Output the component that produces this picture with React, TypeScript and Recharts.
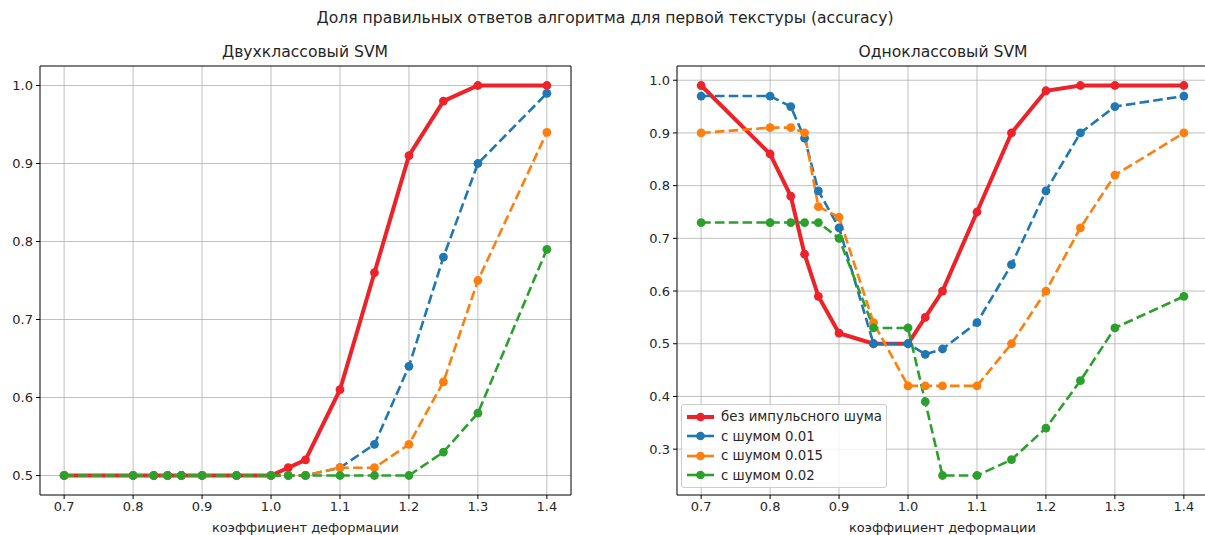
import React from 'react'
import { LineChart, Line, XAxis, YAxis, CartesianGrid, Legend, ReferenceLine } from 'recharts'

const xValues = [0.7, 0.8, 0.83, 0.85, 0.87, 0.9, 0.95, 1.0, 1.025, 1.05, 1.1, 1.15, 1.2, 1.25, 1.3, 1.4]
const xTicks = [0.7, 0.8, 0.9, 1.0, 1.1, 1.2, 1.3, 1.4]

// Двухклассовый SVM
const twoClassClean = [0.5, 0.5, 0.5, 0.5, 0.5, 0.5, 0.5, 0.5, 0.51, 0.52, 0.61, 0.76, 0.91, 0.98, 1.0, 1.0]
const twoClassNoise01 = [0.5, 0.5, 0.5, 0.5, 0.5, 0.5, 0.5, 0.5, 0.5, 0.5, 0.51, 0.54, 0.64, 0.78, 0.9, 0.99]
const twoClassNoise015 = [0.5, 0.5, 0.5, 0.5, 0.5, 0.5, 0.5, 0.5, 0.5, 0.5, 0.51, 0.51, 0.54, 0.62, 0.75, 0.94]
const twoClassNoise02 = [0.5, 0.5, 0.5, 0.5, 0.5, 0.5, 0.5, 0.5, 0.5, 0.5, 0.5, 0.5, 0.5, 0.53, 0.58, 0.79]
const twoClassYTicks = [0.5, 0.6, 0.7, 0.8, 0.9, 1.0]

// Одноклассовый SVM
const oneClassClean = [0.99, 0.86, 0.78, 0.67, 0.59, 0.52, 0.5, 0.5, 0.55, 0.6, 0.75, 0.9, 0.98, 0.99, 0.99, 0.99]
const oneClassNoise01 = [0.97, 0.97, 0.95, 0.89, 0.79, 0.72, 0.5, 0.5, 0.48, 0.49, 0.54, 0.65, 0.79, 0.9, 0.95, 0.97]
const oneClassNoise015 = [0.9, 0.91, 0.91, 0.9, 0.76, 0.74, 0.54, 0.42, 0.42, 0.42, 0.42, 0.5, 0.6, 0.72, 0.82, 0.9]
const oneClassNoise02 = [0.73, 0.73, 0.73, 0.73, 0.73, 0.7, 0.53, 0.53, 0.39, 0.25, 0.25, 0.28, 0.34, 0.43, 0.53, 0.59]
const oneClassYTicks = [0.3, 0.4, 0.5, 0.6, 0.7, 0.8, 0.9, 1.0]

const seriesNames = ['без импульсного шума', 'с шумом 0.01', 'с шумом 0.015', 'с шумом 0.02']
const COLORS = ['#ee2229', '#1f77b4', '#ff7f0e', '#2ca02c']

const FONT = '"DejaVu Sans", sans-serif'
const TEXT = '#262626'

const buildRows = (a: number[], b: number[], c: number[], d: number[]) =>
  xValues.map((x, i) => ({ x, clean: a[i], n01: b[i], n015: c[i], n02: d[i] }))

const twoClassData = buildRows(twoClassClean, twoClassNoise01, twoClassNoise015, twoClassNoise02)
const oneClassData = buildRows(oneClassClean, oneClassNoise01, oneClassNoise015, oneClassNoise02)

const keys = ['clean', 'n01', 'n015', 'n02']

const renderLegend = () => (
  <div
    style={{
      background: 'rgba(255,255,255,0.8)',
      border: '1px solid #cccccc',
      borderRadius: 3,
      padding: '2px 4px 2px 5px',
      fontFamily: FONT,
      fontSize: 13.3,
      color: TEXT,
    }}
  >
    {seriesNames.map((name, i) => (
      <div key={name} style={{ display: 'flex', alignItems: 'center', height: 19.5 }}>
        <svg width={27} height={10} style={{ marginRight: 7 }}>
          <line x1={0} y1={5} x2={27} y2={5} stroke={COLORS[i]} strokeWidth={i === 0 ? 4 : 2.6} />
          <circle cx={13.5} cy={5} r={4.3} fill={COLORS[i]} />
        </svg>
        <span>{name}</span>
      </div>
    ))}
  </div>
)

function Panel({ data, yDomain, yTicks, withLegend }: { data: any[]; yDomain: number[]; yTicks: number[]; withLegend?: boolean }) {
  const tickStyle = { fill: TEXT, fontSize: 13, fontFamily: FONT }
  return (
    <LineChart width={600} height={535} data={data} margin={{ top: 66, right: 29, bottom: 0, left: 0 }}>
      <CartesianGrid stroke="#b0b0b0" strokeWidth={0.8} verticalValues={xTicks} horizontalValues={yTicks} />
      <XAxis
        dataKey="x"
        type="number"
        domain={[0.665, 1.435]}
        ticks={xTicks}
        allowDataOverflow
        tickFormatter={(v) => v.toFixed(1)}
        tick={tickStyle}
        tickSize={4}
        tickMargin={3}
        height={40}
        stroke="#000"
        label={{ value: 'коэффициент деформации', position: 'insideBottom', offset: 3, fill: TEXT, fontSize: 13, fontFamily: FONT }}
      />
      <YAxis
        type="number"
        domain={yDomain}
        ticks={yTicks}
        allowDataOverflow
        tickFormatter={(v) => v.toFixed(1)}
        tick={tickStyle}
        tickSize={4}
        tickMargin={3}
        width={40}
        stroke="#000"
      />
      <ReferenceLine x={1.435} stroke="#000" strokeWidth={1} />
      <ReferenceLine y={yDomain[1]} stroke="#000" strokeWidth={1} />
      {keys.map((k, i) => (
        <Line
          key={k}
          dataKey={k}
          name={seriesNames[i]}
          type="linear"
          stroke={COLORS[i]}
          strokeWidth={i === 0 ? 4 : 2.6}
          strokeDasharray={i === 0 ? undefined : '9.6 4.2'}
          dot={{ r: 4.4, fill: COLORS[i], stroke: COLORS[i], strokeWidth: 0 }}
          activeDot={false}
          isAnimationActive={false}
        />
      ))}
      {withLegend && (
        <Legend
          layout="vertical"
          align="center"
          verticalAlign="middle"
          content={renderLegend}
          wrapperStyle={{ left: 44, top: 404, width: 'auto' }}
        />
      )}
    </LineChart>
  )
}

export default function App() {
  const titleStyle: React.CSSProperties = {
    position: 'absolute',
    fontFamily: FONT,
    color: TEXT,
    whiteSpace: 'nowrap',
    transform: 'translate(-50%, -50%)',
  }
  return (
    <div style={{ position: 'absolute', left: 0, top: 0, width: 1205, height: 535, overflow: 'hidden', background: '#fff' }}>
      <div style={{ ...titleStyle, left: 605, top: 18, fontSize: 15.6 }}>
        Доля правильных ответов алгоритма для первой текстуры (accuracy)
      </div>
      <div style={{ ...titleStyle, left: 305, top: 52, fontSize: 15.6 }}>Двухклассовый SVM</div>
      <div style={{ ...titleStyle, left: 943, top: 52, fontSize: 15.6 }}>Одноклассовый SVM</div>
      <div style={{ position: 'absolute', left: 0, top: 0 }}>
        <Panel data={twoClassData} yDomain={[0.475, 1.025]} yTicks={twoClassYTicks} />
      </div>
      <div style={{ position: 'absolute', left: 637, top: 0 }}>
        <Panel data={oneClassData} yDomain={[0.213, 1.027]} yTicks={oneClassYTicks} withLegend />
      </div>
    </div>
  )
}
